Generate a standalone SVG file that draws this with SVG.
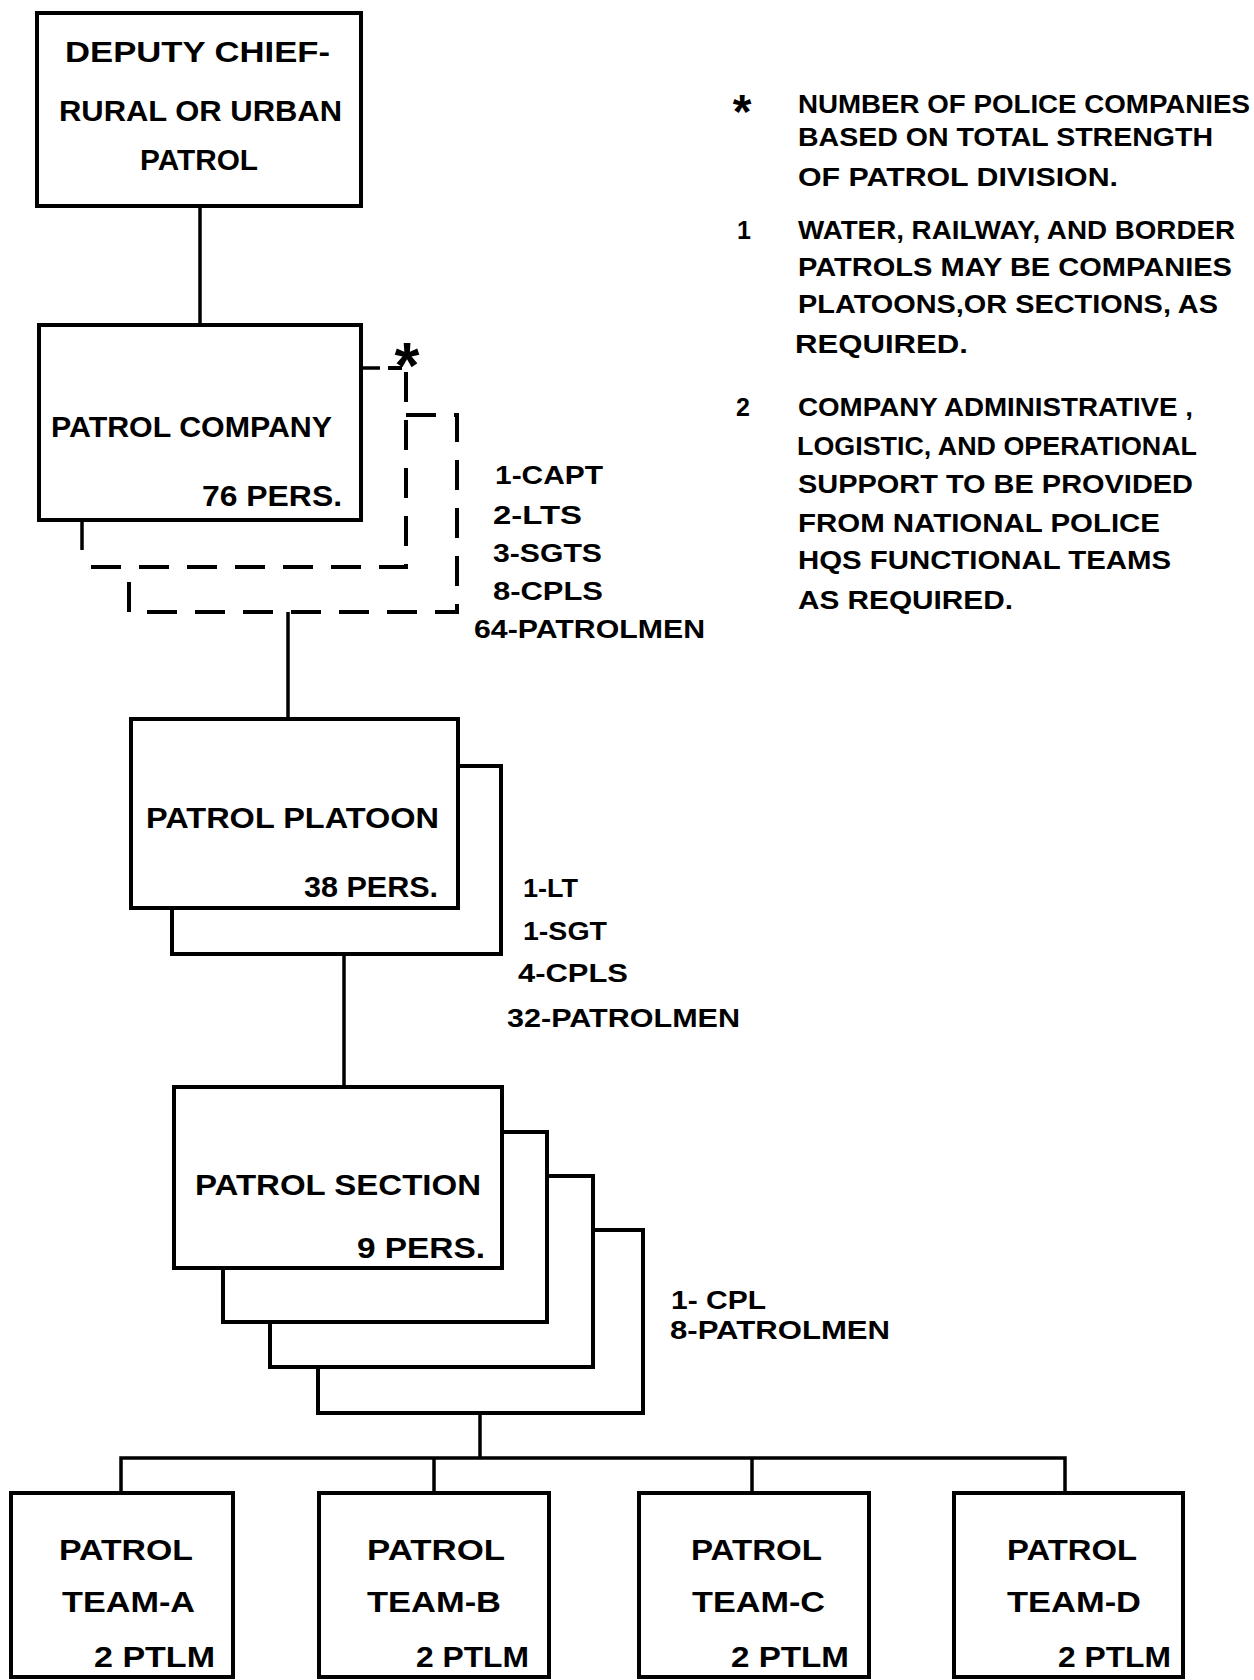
<svg xmlns="http://www.w3.org/2000/svg" width="1254" height="1680" viewBox="0 0 1254 1680">
<style>
.box{fill:#fff;stroke:#000;stroke-width:4}
.ln{fill:none;stroke:#000;stroke-width:3.5}
.dash{fill:none;stroke:#000;stroke-width:4;stroke-dasharray:30 18}
.t{font-family:"Liberation Sans",Arial,sans-serif;font-weight:bold;fill:#000}
.big{font-size:29px}
.lab{font-size:25px}
.note{font-size:25px}
</style>
<rect width="1254" height="1680" fill="#fff"/>
<g id="connectors">
<line class="ln" x1="200" y1="206" x2="200" y2="326"/>
<polyline class="ln" points="361,368 380,368"/>
<line class="ln" x1="388" y1="368" x2="402" y2="368" style="stroke-width:4"/>
<polyline class="dash" points="406,372 406,567 83,567"/>
<line class="ln" x1="82" y1="520" x2="82" y2="550"/>
<polyline class="dash" points="406,415 457,415 457,612 129,612 129,568"/>
<line class="ln" x1="288" y1="612" x2="288" y2="719"/>
<line class="ln" x1="344" y1="955" x2="344" y2="1087"/>
<line class="ln" x1="480" y1="1413" x2="480" y2="1458"/>
<polyline class="ln" points="121,1493 121,1458 1065,1458 1065,1493"/>
<line class="ln" x1="434" y1="1458" x2="434" y2="1493"/>
<line class="ln" x1="752" y1="1458" x2="752" y2="1493"/>
<text class="t" x="407" y="388" font-size="64" text-anchor="middle">*</text>
</g>
<g id="deputy-chief">
<rect class="box" x="37" y="13" width="324" height="193"/>
<text class="t big" x="65" y="62" textLength="265" lengthAdjust="spacingAndGlyphs">DEPUTY CHIEF-</text>
<text class="t big" x="59" y="121" textLength="283" lengthAdjust="spacingAndGlyphs">RURAL OR URBAN</text>
<text class="t big" x="140" y="170" textLength="118" lengthAdjust="spacingAndGlyphs">PATROL</text>
</g>
<g id="patrol-company">
<rect class="box" x="39" y="325" width="322" height="195"/>
<text class="t big" x="51" y="437" textLength="281" lengthAdjust="spacingAndGlyphs">PATROL  COMPANY</text>
<text class="t big" x="202" y="506" textLength="140" lengthAdjust="spacingAndGlyphs">76 PERS.</text>
</g>
<g id="company-strength">
<text class="t lab" x="495" y="484" textLength="108" lengthAdjust="spacingAndGlyphs">1-CAPT</text>
<text class="t lab" x="493" y="524" textLength="89" lengthAdjust="spacingAndGlyphs">2-LTS</text>
<text class="t lab" x="493" y="562" textLength="109" lengthAdjust="spacingAndGlyphs">3-SGTS</text>
<text class="t lab" x="493" y="600" textLength="110" lengthAdjust="spacingAndGlyphs">8-CPLS</text>
<text class="t lab" x="474" y="638" textLength="231" lengthAdjust="spacingAndGlyphs">64-PATROLMEN</text>
</g>
<g id="patrol-platoon">
<polyline class="ln" points="459,766 501,766 501,954 172,954 172,908" style="stroke-width:4"/>
<rect class="box" x="131" y="719" width="327" height="189"/>
<text class="t big" x="146" y="828" textLength="293" lengthAdjust="spacingAndGlyphs">PATROL  PLATOON</text>
<text class="t big" x="304" y="897" textLength="134" lengthAdjust="spacingAndGlyphs">38 PERS.</text>
</g>
<g id="platoon-strength">
<text class="t lab" x="523" y="897" textLength="55" lengthAdjust="spacingAndGlyphs">1-LT</text>
<text class="t lab" x="523" y="940" textLength="84" lengthAdjust="spacingAndGlyphs">1-SGT</text>
<text class="t lab" x="518" y="982" textLength="110" lengthAdjust="spacingAndGlyphs">4-CPLS</text>
<text class="t lab" x="507" y="1027" textLength="233" lengthAdjust="spacingAndGlyphs">32-PATROLMEN</text>
</g>
<g id="patrol-section">
<rect class="box" x="318" y="1230" width="325" height="183"/>
<rect class="box" x="270" y="1176" width="323" height="191"/>
<rect class="box" x="223" y="1132" width="324" height="190"/>
<rect class="box" x="174" y="1087" width="328" height="181"/>
<text class="t big" x="195" y="1195" textLength="286" lengthAdjust="spacingAndGlyphs">PATROL  SECTION</text>
<text class="t big" x="357" y="1258" textLength="128" lengthAdjust="spacingAndGlyphs">9 PERS.</text>
</g>
<g id="section-strength">
<text class="t lab" x="671" y="1309" textLength="95" lengthAdjust="spacingAndGlyphs">1- CPL</text>
<text class="t lab" x="670" y="1339" textLength="220" lengthAdjust="spacingAndGlyphs">8-PATROLMEN</text>
</g>
<g id="team-a">
<rect class="box" x="11" y="1493" width="222" height="184"/>
<text class="t big" x="59" y="1560" textLength="134" lengthAdjust="spacingAndGlyphs">PATROL</text>
<text class="t big" x="62" y="1612" textLength="133" lengthAdjust="spacingAndGlyphs">TEAM-A</text>
<text class="t big" x="94" y="1667" textLength="121" lengthAdjust="spacingAndGlyphs">2 PTLM</text>
</g>
<g id="team-b">
<rect class="box" x="319" y="1493" width="230" height="184"/>
<text class="t big" x="367" y="1560" textLength="138" lengthAdjust="spacingAndGlyphs">PATROL</text>
<text class="t big" x="367" y="1612" textLength="134" lengthAdjust="spacingAndGlyphs">TEAM-B</text>
<text class="t big" x="416" y="1667" textLength="113" lengthAdjust="spacingAndGlyphs">2 PTLM</text>
</g>
<g id="team-c">
<rect class="box" x="639" y="1493" width="230" height="184"/>
<text class="t big" x="691" y="1560" textLength="131" lengthAdjust="spacingAndGlyphs">PATROL</text>
<text class="t big" x="692" y="1612" textLength="133" lengthAdjust="spacingAndGlyphs">TEAM-C</text>
<text class="t big" x="731" y="1667" textLength="118" lengthAdjust="spacingAndGlyphs">2 PTLM</text>
</g>
<g id="team-d">
<rect class="box" x="954" y="1493" width="229" height="184"/>
<text class="t big" x="1007" y="1560" textLength="130" lengthAdjust="spacingAndGlyphs">PATROL</text>
<text class="t big" x="1007" y="1612" textLength="134" lengthAdjust="spacingAndGlyphs">TEAM-D</text>
<text class="t big" x="1058" y="1667" textLength="113" lengthAdjust="spacingAndGlyphs">2 PTLM</text>
</g>
<g id="notes">
<text class="t" x="742" y="128" font-size="48" text-anchor="middle">*</text>
<text class="t note" x="798" y="113" textLength="452" lengthAdjust="spacingAndGlyphs">NUMBER OF POLICE COMPANIES</text>
<text class="t note" x="798" y="146" textLength="415" lengthAdjust="spacingAndGlyphs">BASED ON TOTAL STRENGTH</text>
<text class="t note" x="798" y="186" textLength="320" lengthAdjust="spacingAndGlyphs">OF PATROL DIVISION.</text>
<text class="t note" x="737" y="239">1</text>
<text class="t note" x="798" y="239" textLength="437" lengthAdjust="spacingAndGlyphs">WATER, RAILWAY, AND BORDER</text>
<text class="t note" x="798" y="276" textLength="434" lengthAdjust="spacingAndGlyphs">PATROLS MAY BE COMPANIES</text>
<text class="t note" x="798" y="313" textLength="420" lengthAdjust="spacingAndGlyphs">PLATOONS,OR SECTIONS, AS</text>
<text class="t note" x="795" y="353" textLength="173" lengthAdjust="spacingAndGlyphs">REQUIRED.</text>
<text class="t note" x="736" y="416">2</text>
<text class="t note" x="798" y="416" textLength="395" lengthAdjust="spacingAndGlyphs">COMPANY ADMINISTRATIVE ,</text>
<text class="t note" x="797" y="455" textLength="400" lengthAdjust="spacingAndGlyphs">LOGISTIC, AND OPERATIONAL</text>
<text class="t note" x="798" y="493" textLength="395" lengthAdjust="spacingAndGlyphs">SUPPORT TO BE PROVIDED</text>
<text class="t note" x="798" y="532" textLength="362" lengthAdjust="spacingAndGlyphs">FROM NATIONAL POLICE</text>
<text class="t note" x="798" y="569" textLength="373" lengthAdjust="spacingAndGlyphs">HQS FUNCTIONAL TEAMS</text>
<text class="t note" x="798" y="609" textLength="215" lengthAdjust="spacingAndGlyphs">AS REQUIRED.</text>
</g>
</svg>
